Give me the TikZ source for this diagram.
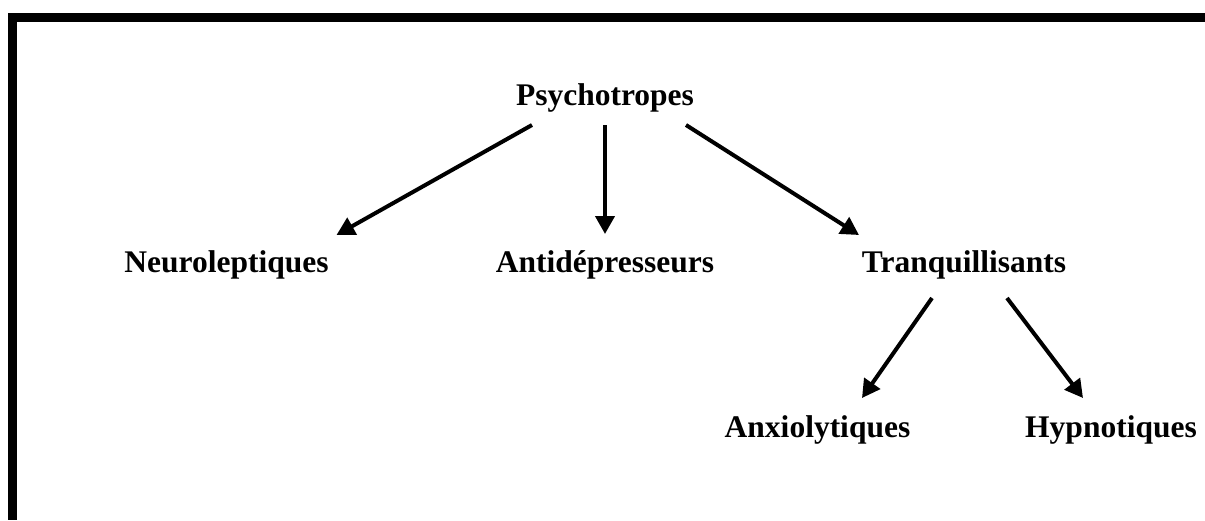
\documentclass[tikz,border=0pt]{standalone}
\usepackage{fontspec}
\setmainfont{Liberation Serif}
\usetikzlibrary{arrows.meta}

\tikzset{
    drug/.style={inner sep=0pt, anchor=base, font=\bfseries\fontsize{31.5}{38}\selectfont},
    link/.style={line width=4pt, -{Triangle[length=18pt,width=19pt]}}
}

\begin{document}
\begin{tikzpicture}[x=1pt,y=-1pt]
    \useasboundingbox (0,0) rectangle (1205,520);
    % frame, top and left only
    \fill[black] (8,13) rectangle (1205,22);
    \fill[black] (8,13) rectangle (17,520);
    \node[drug] at (605,105) (psycho) {Psychotropes};
    \node[drug] at (226.5,272) (neuro) {Neuroleptiques};
    \node[drug] at (605,272) (antidep) {Antidépresseurs};
    \node[drug] at (964,272) (tranq) {Tranquillisants};
    \node[drug] at (817.5,437) (anxio) {Anxiolytiques};
    \node[drug] at (1111,437) (hypno) {Hypnotiques};
    \draw[link] ([shift={(-73,20)}]psycho.base) -- ([shift={(110,-37)}]neuro.base);
    \draw[link] ([shift={(0,20)}]psycho.base) -- ([shift={(0,-38)}]antidep.base);
    \draw[link] ([shift={(81,20)}]psycho.base) -- ([shift={(-105,-37)}]tranq.base);
    \draw[link] ([shift={(-32,26)}]tranq.base) -- ([shift={(44.5,-39)}]anxio.base);
    \draw[link] ([shift={(43,26)}]tranq.base) -- ([shift={(-28,-39)}]hypno.base);
\end{tikzpicture}
\end{document}
